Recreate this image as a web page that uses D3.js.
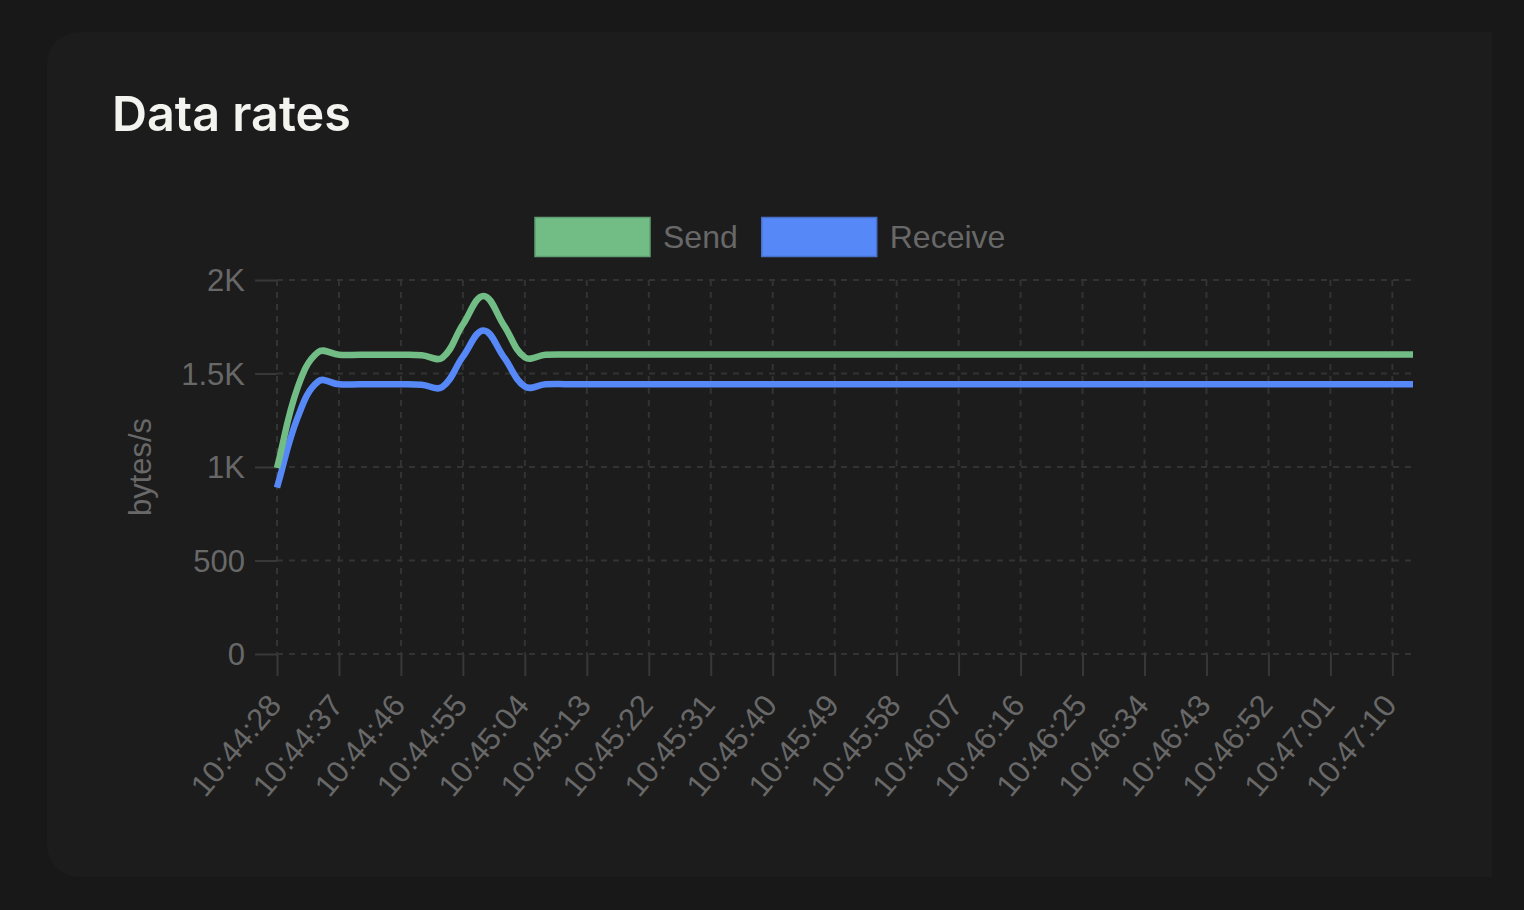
<!DOCTYPE html>
<html><head><meta charset="utf-8">
<script src="https://cdn.jsdelivr.net/npm/d3@7"></script>
<style>
html,body{margin:0;padding:0;background:#181818;}
svg{display:block;}
</style></head><body>
<svg id="chart" width="1524" height="910"></svg>
<script>
// ---------- data ----------
const times = [
  "10:44:28","10:44:31","10:44:34","10:44:37","10:44:40","10:44:43","10:44:46","10:44:49",
  "10:44:52","10:44:55","10:44:58","10:45:01","10:45:04","10:45:07","10:45:10","10:45:13",
  "10:45:16","10:45:19","10:45:22","10:45:25","10:45:28","10:45:31","10:45:34","10:45:37",
  "10:45:40","10:45:43","10:45:46","10:45:49","10:45:52","10:45:55","10:45:58","10:46:01",
  "10:46:04","10:46:07","10:46:10","10:46:13","10:46:16","10:46:19","10:46:22","10:46:25",
  "10:46:28","10:46:31","10:46:34","10:46:37","10:46:40","10:46:43","10:46:46","10:46:49",
  "10:46:52","10:46:55","10:46:58","10:47:01","10:47:04","10:47:07","10:47:10","10:47:13"
];
const xTickLabels = [
  "10:44:28","10:44:37","10:44:46","10:44:55","10:45:04","10:45:13","10:45:22","10:45:31",
  "10:45:40","10:45:49","10:45:58","10:46:07","10:46:16","10:46:25","10:46:34","10:46:43",
  "10:46:52","10:47:01","10:47:10"
];
const sendValues = [
  995, 1425, 1615, 1600, 1600, 1600, 1600, 1598, 1584, 1762, 1915, 1755, 1586, 1600,
  1602, 1602, 1602, 1602, 1602, 1602, 1602, 1602, 1602, 1602, 1602, 1602, 1602, 1602,
  1602, 1602, 1602, 1602, 1602, 1602, 1602, 1602, 1602, 1602, 1602, 1602, 1602, 1602,
  1602, 1602, 1602, 1602, 1602, 1602, 1602, 1602, 1602, 1602, 1602, 1602, 1602, 1602
];
const receiveValues = [
  890, 1265, 1458, 1442, 1442, 1442, 1442, 1440, 1428, 1590, 1730, 1585, 1430, 1442,
  1443, 1443, 1443, 1443, 1443, 1443, 1443, 1443, 1443, 1443, 1443, 1443, 1443, 1443,
  1443, 1443, 1443, 1443, 1443, 1443, 1443, 1443, 1443, 1443, 1443, 1443, 1443, 1443,
  1443, 1443, 1443, 1443, 1443, 1443, 1443, 1443, 1443, 1443, 1443, 1443, 1443, 1443
];
const yTickValues = [0, 500, 1000, 1500, 2000];
const yTickLabels = ["0", "500", "1K", "1.5K", "2K"];
const seriesNames = ["Send", "Receive"];
const seriesColors = ["#72bd86", "#5689f7"];
const seriesBorders = ["#5f9e70", "#4870c8"];
const titleText = "Data rates";
const yAxisTitle = "bytes/s";

// ---------- layout ----------
const W = 1524, H = 910;
const plot = {left: 277, right: 1413, top: 280, bottom: 654};
const tickColor = "#686868";
const gridColor = "#333333";
const tickFont = "'Helvetica Neue', Helvetica, 'Liberation Sans', Arial, sans-serif";

// Chart.js-style bezier spline (tension 0.4, distance weighted)
function SplineCurve(context, t) { this._context = context; this._t = t; }
SplineCurve.prototype = {
  areaStart() {}, areaEnd() {},
  lineStart() { this._pts = []; },
  point(px, py) { this._pts.push([+px, +py]); },
  lineEnd() {
    const p = this._pts, n = p.length, t = this._t, ctx = this._context;
    if (!n) return;
    const cps = p.map((cur, i) => {
      const prev = i > 0 ? p[i - 1] : cur, next = i < n - 1 ? p[i + 1] : cur;
      const d01 = Math.hypot(cur[0] - prev[0], cur[1] - prev[1]);
      const d12 = Math.hypot(next[0] - cur[0], next[1] - cur[1]);
      let s01 = d01 / (d01 + d12), s12 = d12 / (d01 + d12);
      if (isNaN(s01)) s01 = 0;
      if (isNaN(s12)) s12 = 0;
      const fa = t * s01, fb = t * s12;
      return {
        prev: [cur[0] - fa * (next[0] - prev[0]), cur[1] - fa * (next[1] - prev[1])],
        next: [cur[0] + fb * (next[0] - prev[0]), cur[1] + fb * (next[1] - prev[1])]
      };
    });
    ctx.moveTo(p[0][0], p[0][1]);
    for (let i = 1; i < n; i++) {
      ctx.bezierCurveTo(cps[i - 1].next[0], cps[i - 1].next[1],
                        cps[i].prev[0], cps[i].prev[1], p[i][0], p[i][1]);
    }
  }
};
const curveSpline = ctx => new SplineCurve(ctx, 0.4);

const svg = d3.select("#chart");

// background + card
svg.append("rect").attr("width", W).attr("height", H).attr("fill", "#181818");
const cx0 = 47, cy0 = 32, cx1 = 1492, cy1 = 877, r = 32;
svg.append("path")
  .attr("d", `M${cx1},${cy0} H${cx0 + r} A${r},${r} 0 0 0 ${cx0},${cy0 + r} V${cy1 - r} A${r},${r} 0 0 0 ${cx0 + r},${cy1} H${cx1} Z`)
  .attr("fill", "#1c1c1c");

// title
svg.append("text")
  .attr("x", 112).attr("y", 131)
  .attr("font-family", "Inter, 'Noto Sans', sans-serif")
  .attr("font-weight", 600)
  .attr("font-size", 48.5)
  .attr("fill", "#f3f3ef")
  .text(titleText);

// scales
const x = d3.scalePoint().domain(times).range([plot.left, plot.right]);
const y = d3.scaleLinear().domain([0, 2000]).range([plot.bottom, plot.top]);

// grid
const grid = svg.append("g");
grid.selectAll("line.h").data(yTickValues).join("line")
  .attr("x1", plot.left).attr("x2", plot.right)
  .attr("y1", d => y(d)).attr("y2", d => y(d))
  .attr("stroke", gridColor).attr("stroke-width", 2).attr("stroke-dasharray", "6,6");
grid.selectAll("line.v").data(xTickLabels).join("line")
  .attr("x1", d => x(d)).attr("x2", d => x(d))
  .attr("y1", plot.top).attr("y2", plot.bottom)
  .attr("stroke", gridColor).attr("stroke-width", 2).attr("stroke-dasharray", "6,6");

// y axis
const yAxis = svg.append("g")
  .attr("transform", `translate(${plot.left},0)`)
  .call(d3.axisLeft(y).tickValues(yTickValues)
    .tickFormat((d, i) => yTickLabels[i]).tickSize(22).tickPadding(10));
yAxis.select(".domain").remove();
yAxis.selectAll(".tick line").attr("stroke", "#383838").attr("stroke-width", 2);
yAxis.selectAll(".tick text")
  .attr("fill", tickColor).attr("font-family", tickFont).attr("font-size", 31)
  .attr("dy", "0.35em");

// x axis
const xAxis = svg.append("g")
  .attr("transform", `translate(0,${plot.bottom})`)
  .call(d3.axisBottom(x).tickValues(xTickLabels).tickSize(22).tickPadding(10));
xAxis.select(".domain").remove();
xAxis.selectAll(".tick line").attr("stroke", "#383838").attr("stroke-width", 2);
xAxis.selectAll(".tick text")
  .attr("fill", tickColor).attr("font-family", tickFont).attr("font-size", 31)
  .attr("x", 0).attr("y", 0).attr("dy", "0.35em")
  .attr("text-anchor", "end")
  .attr("transform", "translate(-3,45) rotate(-50)");

// y axis title
svg.append("text")
  .attr("transform", `translate(151,${(plot.top + plot.bottom) / 2}) rotate(-90)`)
  .attr("text-anchor", "middle")
  .attr("font-family", tickFont).attr("font-size", 31)
  .attr("fill", tickColor)
  .text(yAxisTitle);

// lines
const line = d3.line()
  .x((d, i) => x(times[i]))
  .y(d => y(d))
  .curve(curveSpline);
const seriesData = [sendValues, receiveValues];
// draw in reverse so the first dataset is on top
for (let s = seriesData.length - 1; s >= 0; s--) {
  svg.append("path")
    .datum(seriesData[s])
    .attr("d", line)
    .attr("fill", "none")
    .attr("stroke", seriesColors[s])
    .attr("stroke-width", 6.5)
    .attr("stroke-linecap", "butt")
    .attr("stroke-linejoin", "round");
}

// legend
const legend = svg.append("g");
let lx = 535;
const boxW = 115, boxH = 39, legendY = 237;
seriesNames.forEach((name, i) => {
  legend.append("rect")
    .attr("x", lx).attr("y", legendY - boxH / 2)
    .attr("width", boxW).attr("height", boxH)
    .attr("fill", seriesColors[i])
    .attr("stroke", seriesBorders[i]).attr("stroke-width", 1.5);
  const t = legend.append("text")
    .attr("x", lx + boxW + 13).attr("y", legendY)
    .attr("dy", "0.35em")
    .attr("font-family", tickFont).attr("font-size", 32)
    .attr("fill", tickColor)
    .text(name);
  lx += boxW + 13 + t.node().getComputedTextLength() + 24;
});
</script>
</body></html>
